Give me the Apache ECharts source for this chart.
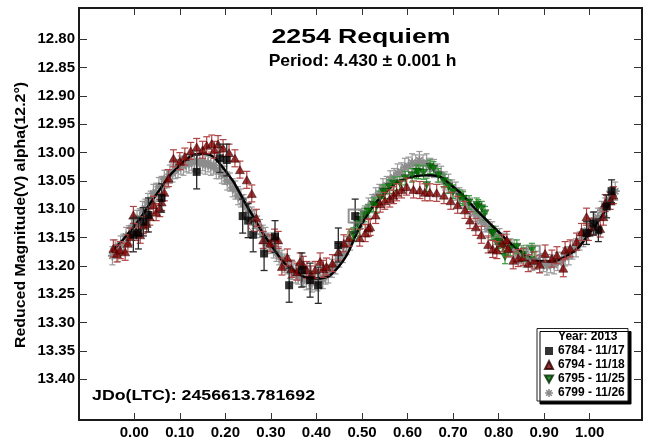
<!DOCTYPE html>
<html><head><meta charset="utf-8">
<script src="https://cdn.jsdelivr.net/npm/echarts@6/dist/echarts.min.js"></script>
<style>html,body{margin:0;padding:0;background:#fff}#c{width:647px;height:441px}</style>
</head><body><div id="c"></div>
<script>
// ---------- Data ----------
const xTicks = [0.00,0.10,0.20,0.30,0.40,0.50,0.60,0.70,0.80,0.90,1.00];
const yTicks = [12.80,12.85,12.90,12.95,13.00,13.05,13.10,13.15,13.20,13.25,13.30,13.35,13.40];

const titleText = '2254 Requiem';
const subtitleText = 'Period: 4.430 \u00b1 0.001 h';
const jdText = 'JDo(LTC): 2456613.781692';
const yName = 'Reduced Magnitude(V) alpha(12.2\u00b0)';
const legendTitle = 'Year: 2013';
const seriesNames = ['6784 - 11/17','6794 - 11/18','6795 - 11/25','6799 - 11/26'];

// fit curve
const fitPhase = [-0.05,0.00,0.05,0.10,0.15,0.20,0.25,0.30,0.35,0.40,0.45,0.50,0.55,0.60,0.65,0.70,0.75,0.80,0.85,0.90,0.95,1.00,1.05];
const fitMag   = [13.175,13.130,13.072,13.022,13.002,13.032,13.098,13.163,13.208,13.222,13.200,13.125,13.072,13.045,13.040,13.060,13.100,13.140,13.175,13.192,13.182,13.142,13.080];

// 6784 - black squares
const blkPhase = [-0.002,0.009,0.020,0.031,0.060,0.137,0.188,0.203,0.238,0.250,0.261,0.285,0.309,0.340,0.368,0.386,0.404,0.448,0.485,0.993,1.008,1.019,1.037,1.048];
const blkMag   = [13.145,13.142,13.122,13.110,13.080,13.034,13.010,13.013,13.112,13.120,13.145,13.178,13.148,13.234,13.207,13.225,13.234,13.163,13.112,13.142,13.125,13.137,13.095,13.068];
const blkErr   = [0.030,0.028,0.025,0.030,0.025,0.030,0.025,0.028,0.030,0.030,0.030,0.030,0.028,0.030,0.030,0.030,0.032,0.030,0.030,0.020,0.020,0.020,0.020,0.020];

// 6794 - dark red triangles
const redPhase = [-0.046,-0.038,-0.031,-0.020,-0.014,-0.009,-0.002,0.004,0.013,0.020,0.027,0.034,0.042,0.048,0.056,0.060,0.066,0.075,0.086,0.100,0.111,0.124,0.137,0.150,0.159,0.170,0.176,0.184,0.195,0.208,0.221,0.232,0.247,0.258,0.268,0.283,0.298,0.308,0.316,0.324,0.336,0.345,0.357,0.364,0.371,0.379,0.388,0.397,0.408,0.415,0.422,0.435,0.448,0.460,0.472,0.495,0.507,0.514,0.518,0.530,0.540,0.550,0.561,0.569,0.576,0.587,0.598,0.613,0.627,0.638,0.649,0.664,0.680,0.695,0.710,0.726,0.737,0.750,0.762,0.777,0.787,0.796,0.808,0.818,0.821,0.832,0.843,0.854,0.865,0.878,0.890,0.902,0.917,0.928,0.942,0.946,0.957,0.971,0.982,0.993,0.997,1.008,1.023,1.030,1.034,1.045,1.052];
const redMag   = [13.169,13.178,13.172,13.175,13.160,13.148,13.110,13.140,13.145,13.128,13.125,13.113,13.092,13.105,13.098,13.087,13.070,13.045,13.010,13.015,13.007,12.997,12.990,12.995,12.987,12.984,12.995,12.985,12.992,13.000,13.010,13.030,13.048,13.072,13.115,13.154,13.160,13.150,13.154,13.201,13.185,13.205,13.210,13.192,13.198,13.207,13.215,13.207,13.192,13.205,13.201,13.195,13.175,13.160,13.150,13.150,13.142,13.133,13.131,13.110,13.090,13.085,13.081,13.075,13.070,13.065,13.060,13.065,13.066,13.070,13.070,13.071,13.075,13.085,13.092,13.101,13.119,13.131,13.145,13.162,13.170,13.172,13.160,13.154,13.169,13.190,13.186,13.184,13.195,13.190,13.197,13.178,13.187,13.181,13.204,13.172,13.169,13.157,13.140,13.113,13.140,13.131,13.134,13.113,13.089,13.085,13.075];
const redErr = 0.015;

// 6795 - green down triangles
const grnPhase = [0.481,0.490,0.496,0.505,0.514,0.525,0.532,0.540,0.547,0.551,0.560,0.570,0.583,0.595,0.610,0.620,0.624,0.635,0.642,0.649,0.657,0.668,0.680,0.690,0.700,0.715,0.722,0.735,0.752,0.755,0.763,0.770,0.785,0.788,0.796,0.799,0.810,0.814,0.825,0.840,0.855,0.873];
const grnMag   = [13.145,13.125,13.119,13.110,13.104,13.092,13.095,13.080,13.069,13.069,13.060,13.055,13.054,13.045,13.040,13.034,13.034,13.035,13.057,13.025,13.028,13.040,13.050,13.060,13.069,13.078,13.081,13.088,13.092,13.095,13.098,13.107,13.142,13.142,13.160,13.157,13.166,13.184,13.170,13.166,13.180,13.172];
const grnErr = 0.012;

// 6799 - gray asterisks
const gryPhase = [-0.048,-0.042,-0.036,-0.030,-0.024,-0.018,-0.012,-0.006,0.000,0.006,0.012,0.018,0.024,0.030,0.036,0.042,0.048,0.054,0.060,0.066,0.072,0.078,0.084,0.090,0.096,0.102,0.108,0.114,0.120,0.126,0.132,0.138,0.144,0.150,0.156,0.162,0.168,0.174,0.180,0.186,0.192,0.198,0.204,0.210,0.216,0.222,0.228,0.234,0.240,0.246,0.252,0.258,0.264,0.270,0.276,0.282,0.288,0.294,0.300,0.306,0.312,0.318,0.324,0.330,0.336,0.342,0.348,0.354,0.360,0.366,0.372,0.378,0.384,0.390,0.396,0.402,0.408,0.414,0.420,0.426,0.434,0.442,0.450,0.458,0.466,0.474,0.482,0.490,0.498,0.506,0.514,0.522,0.530,0.538,0.546,0.554,0.562,0.570,0.578,0.586,0.594,0.602,0.610,0.618,0.626,0.634,0.642,0.650,0.658,0.666,0.674,0.682,0.690,0.698,0.706,0.714,0.722,0.730,0.738,0.746,0.754,0.762,0.770,0.778,0.786,0.794,0.802,0.810,0.818,0.826,0.834,0.842,0.850,0.858,0.866,0.874,0.882,0.890,0.898,0.906,0.914,0.922,0.930,0.938,0.946,0.954,0.962,0.970,0.978,0.986,0.994,1.002,1.010,1.018,1.026,1.034,1.042,1.050,1.056];
const gryMag   = [13.182,13.170,13.176,13.163,13.160,13.148,13.145,13.133,13.128,13.118,13.115,13.102,13.098,13.088,13.084,13.072,13.070,13.060,13.058,13.047,13.046,13.038,13.036,13.030,13.028,13.022,13.024,13.018,13.020,13.015,13.018,13.014,13.020,13.016,13.022,13.018,13.024,13.022,13.030,13.030,13.038,13.040,13.050,13.052,13.062,13.066,13.076,13.080,13.090,13.096,13.104,13.112,13.118,13.128,13.134,13.144,13.148,13.158,13.162,13.170,13.176,13.182,13.188,13.195,13.198,13.206,13.208,13.214,13.216,13.222,13.220,13.226,13.224,13.230,13.226,13.228,13.222,13.224,13.216,13.214,13.204,13.198,13.186,13.178,13.164,13.156,13.140,13.132,13.118,13.110,13.096,13.090,13.078,13.072,13.062,13.058,13.048,13.044,13.036,13.034,13.026,13.024,13.018,13.020,13.014,13.020,13.018,13.026,13.028,13.036,13.040,13.050,13.054,13.064,13.068,13.078,13.082,13.092,13.096,13.106,13.110,13.120,13.124,13.134,13.138,13.146,13.150,13.158,13.160,13.168,13.170,13.178,13.180,13.186,13.186,13.192,13.190,13.196,13.194,13.200,13.196,13.198,13.192,13.192,13.184,13.182,13.172,13.168,13.156,13.150,13.138,13.132,13.120,13.114,13.102,13.096,13.084,13.076,13.068];
const gryErr = 0.016;

// rejected (hollow) points
const rejGrayPhase = [0.485,0.876];
const rejGrayMag   = [13.112,13.176];
const rejRedPhase  = [0.265];
const rejRedMag    = [13.128];
const rejGrnCirPhase = [0.482];
const rejGrnCirMag   = [13.142];
const rejGrnSqPhase  = [0.867];
const rejGrnSqMag    = [13.174];

// ---------- Helpers ----------
const zip = (a,b) => a.map((v,i)=>[v,b[i]]);
const zip3 = (a,b,e) => a.map((v,i)=>[v,b[i], Array.isArray(e)?e[i]:e]);

function errRender(color, cap, lw){
  return function(params, api){
    const x = api.value(0), y = api.value(1), e = api.value(2);
    const p1 = api.coord([x, y - e]);
    const p2 = api.coord([x, y + e]);
    const style = {stroke: color, lineWidth: lw, fill: null};
    return {type:'group', children:[
      {type:'line', shape:{x1:p1[0], y1:p1[1], x2:p2[0], y2:p2[1]}, style:style},
      {type:'line', shape:{x1:p1[0]-cap, y1:p1[1], x2:p1[0]+cap, y2:p1[1]}, style:style},
      {type:'line', shape:{x1:p2[0]-cap, y1:p2[1], x2:p2[0]+cap, y2:p2[1]}, style:style}
    ]};
  };
}

const asterisk = 'path://M-5,-1L5,-1L5,1L-5,1Z M-1,-5L1,-5L1,5L-1,5Z M-2.8,-4.2L4.2,2.8L2.8,4.2L-4.2,-2.8Z M2.8,-4.2L4.2,-2.8L-2.8,4.2L-4.2,2.8Z';
const downTri = 'path://M0,0L10,0L5,9Z';

const FONT = '"Liberation Sans", Arial, sans-serif';
const XMIN = -0.1214, XMAX = 1.1148, YMIN = 12.7448, YMAX = 13.4718;

const tickStyle = {color:'#333', width:1};
function xAx(pos, showLabel){
  return {
    type:'value', min:XMIN, max:XMAX, position:pos,
    axisLine:{show:false, onZero:false}, splitLine:{show:false},
    axisTick:{show:true, inside:true, length:7, customValues:xTicks, lineStyle:tickStyle},
    axisLabel: showLabel ? {customValues:xTicks, formatter:v=>v.toFixed(2), fontFamily:FONT, fontWeight:'bold', fontSize:15, color:'#000', margin:5} : {show:false}
  };
}
function yAx(pos, showLabel){
  return {
    type:'value', min:YMIN, max:YMAX, inverse:true, position:pos,
    axisLine:{show:false, onZero:false}, splitLine:{show:false},
    axisTick:{show:true, inside:true, length:8, customValues:yTicks, lineStyle:tickStyle},
    axisLabel: showLabel ? {customValues:yTicks, formatter:v=>v.toFixed(2), fontFamily:FONT, fontWeight:'bold', fontSize:15, color:'#000', margin:4} : {show:false}
  };
}

const chart = echarts.init(document.getElementById('c'), null, {renderer:'canvas'});
const option = {
  animation: false,
  backgroundColor: '#fff',
  grid: {left:79, right:5, top:8, bottom:21, show:true, borderColor:'#1a1a1a', borderWidth:2, backgroundColor:'transparent'},
  xAxis: [xAx('bottom', true), xAx('top', false)],
  yAxis: [yAx('left', true), yAx('right', false)],
  legend: {
    orient:'vertical', left:544, top:345, padding:0, itemGap:2,
    itemWidth:8, itemHeight:8, z:20,
    data: seriesNames,
    textStyle:{fontFamily:FONT, fontWeight:'bold', fontSize:12, color:'#000'}
  },
  graphic: [
    {type:'text', x:361, y:37, scaleX:1.33, z:10,
      style:{text:titleText, font:'bold 20px ' + FONT, fill:'#000', textAlign:'center', textVerticalAlign:'middle'}},
    {type:'text', x:362.5, y:61, scaleX:1.03, z:10,
      style:{text:subtitleText, font:'bold 17px ' + FONT, fill:'#000', textAlign:'center', textVerticalAlign:'middle'}},
    {type:'text', x:92, y:396, scaleX:1.27, z:10,
      style:{text:jdText, font:'bold 14px ' + FONT, fill:'#000', textAlign:'left', textVerticalAlign:'middle'}},
    {type:'text', x:21, y:215, rotation:Math.PI/2, scaleX:1.06, z:10,
      style:{text:yName, font:'bold 15px ' + FONT, fill:'#000', textAlign:'center', textVerticalAlign:'middle'}},
    {type:'rect', z:15, shape:{x:537, y:328.5, width:91, height:72.5},
      style:{fill:'#fff', stroke:'#222', lineWidth:1, shadowColor:'#000', shadowOffsetX:3, shadowOffsetY:3, shadowBlur:0}},
    {type:'text', x:587.8, y:337, z:16,
      style:{text:legendTitle, font:'bold 12px ' + FONT, fill:'#000', textAlign:'center', textVerticalAlign:'middle'}}
  ],
  series: [
    {type:'custom', name:'err6799', renderItem:errRender('#9a9a9a',3,1.2), data:zip3(gryPhase,gryMag,gryErr), encode:{x:0,y:1}, z:2},
    {type:'scatter', name:seriesNames[3], symbol:asterisk, symbolSize:9, data:zip(gryPhase,gryMag), itemStyle:{color:'#8c8c8c', opacity:1}, z:2},
    {type:'line', name:'fit', data:zip(fitPhase,fitMag), smooth:true, showSymbol:false, lineStyle:{color:'#000', width:2.5}, z:3},
    {type:'custom', name:'err6795', renderItem:errRender('#3c9a3c',3,1.2), data:zip3(grnPhase,grnMag,grnErr), encode:{x:0,y:1}, z:3},
    {type:'scatter', name:seriesNames[2], symbol:downTri, symbolSize:[8,7], data:zip(grnPhase,grnMag), itemStyle:{color:'#007000', borderColor:'#002a00', borderWidth:0.5}, z:3},
    {type:'custom', name:'err6794', renderItem:errRender('#b04444',3.5,1.2), data:zip3(redPhase,redMag,redErr), encode:{x:0,y:1}, z:4},
    {type:'scatter', name:seriesNames[1], symbol:'triangle', symbolSize:[9,8], data:zip(redPhase,redMag), itemStyle:{color:'#7a0000', borderColor:'#2a0000', borderWidth:0.6}, z:4},
    {type:'custom', name:'err6784', renderItem:errRender('#2a2a2a',3.5,1.3), data:zip3(blkPhase,blkMag,blkErr), encode:{x:0,y:1}, z:5},
    {type:'scatter', name:seriesNames[0], symbol:'rect', symbolSize:8, data:zip(blkPhase,blkMag), itemStyle:{color:'#000'}, z:5},
    {type:'scatter', name:'rejGray', symbol:'rect', symbolSize:13, data:zip(rejGrayPhase,rejGrayMag), itemStyle:{color:'transparent', borderColor:'#777', borderWidth:2}, z:6},
    {type:'scatter', name:'rejRed', symbol:'circle', symbolSize:13, data:zip(rejRedPhase,rejRedMag), itemStyle:{color:'transparent', borderColor:'#a03030', borderWidth:1}, z:6},
    {type:'scatter', name:'rejGrnC', symbol:'circle', symbolSize:12, data:zip(rejGrnCirPhase,rejGrnCirMag), itemStyle:{color:'transparent', borderColor:'#3a9a3a', borderWidth:1}, z:6},
    {type:'scatter', name:'rejGrnS', symbol:'rect', symbolSize:12, data:zip(rejGrnSqPhase,rejGrnSqMag), itemStyle:{color:'transparent', borderColor:'#3a9a3a', borderWidth:1}, z:6}
  ]
};
chart.setOption(option);
</script>
</body></html>
